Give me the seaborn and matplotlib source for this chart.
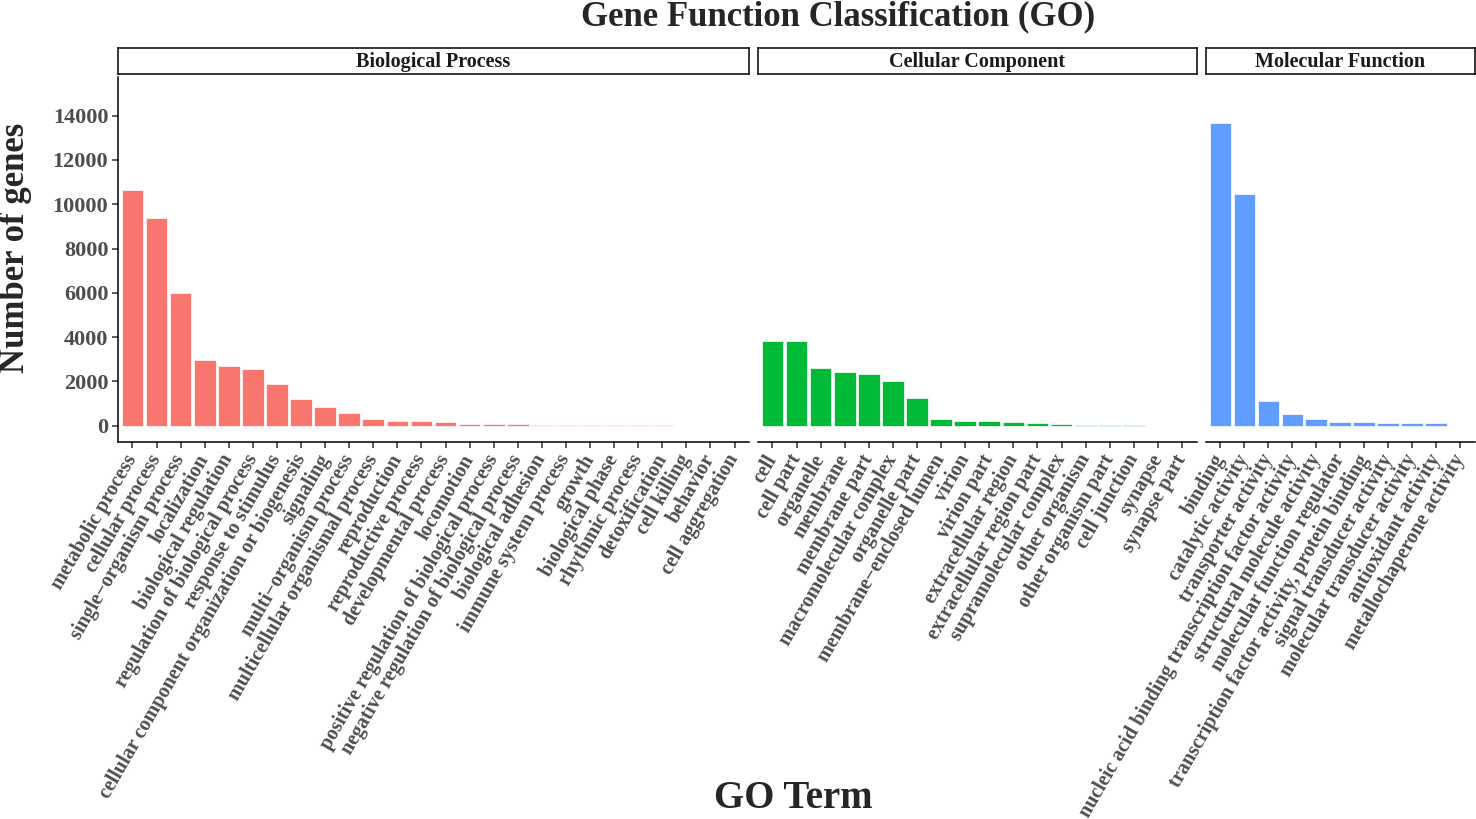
import matplotlib
matplotlib.use("Agg")
import matplotlib.pyplot as plt
import seaborn as sns
import pandas as pd

# data
bp_terms = [
    "metabolic process", "cellular process", "single\u2212organism process",
    "localization", "biological regulation", "regulation of biological process",
    "response to stimulus", "cellular component organization or biogenesis",
    "signaling", "multi\u2212organism process", "multicellular organismal process",
    "reproduction", "reproductive process", "developmental process", "locomotion",
    "positive regulation of biological process",
    "negative regulation of biological process", "biological adhesion",
    "immune system process", "growth", "biological phase", "rhythmic process",
    "detoxification", "cell killing", "behavior", "cell aggregation",
]
bp_counts = [10640, 9370, 5980, 2970, 2680, 2550, 1880, 1190, 830, 560, 290,
             225, 200, 180, 90, 80, 75, 50, 35, 25, 20, 15, 10, 7, 4, 2]

cc_terms = [
    "cell", "cell part", "organelle", "membrane", "membrane part",
    "macromolecular complex", "organelle part", "membrane\u2212enclosed lumen",
    "virion", "virion part", "extracellular region", "extracellular region part",
    "supramolecular complex", "other organism", "other organism part",
    "cell junction", "synapse", "synapse part",
]
cc_counts = [3840, 3830, 2590, 2440, 2330, 2000, 1260, 300, 220, 220, 165, 135,
             65, 30, 30, 10, 8, 5]

mf_terms = [
    "binding", "catalytic activity", "transporter activity",
    "nucleic acid binding transcription factor activity",
    "structural molecule activity", "molecular function regulator",
    "transcription factor activity, protein binding",
    "signal transducer activity", "molecular transducer activity",
    "antioxidant activity", "metallochaperone activity",
]
mf_counts = [13660, 10450, 1130, 515, 320, 180, 155, 125, 125, 105, 5]

facet_names = ["Biological Process", "Cellular Component", "Molecular Function"]
facet_colors = ["#F8766D", "#00BA38", "#619CFF"]
y_ticks = [0, 2000, 4000, 6000, 8000, 10000, 12000, 14000]

sns.set_theme(style="white")
plt.rcParams["font.family"] = ["Liberation Serif", "DejaVu Serif"]
plt.rcParams["font.weight"] = "bold"

W, H = 1476, 819
fig = plt.figure(figsize=(W / 100, H / 100), dpi=100)


def px_box(x0, y0, x1, y1):
    return [x0 / W, 1 - y1 / H, (x1 - x0) / W, (y1 - y0) / H]


facets = [
    (bp_terms, bp_counts, 118, 749),
    (cc_terms, cc_counts, 758, 1196.5),
    (mf_terms, mf_counts, 1206, 1474.5),
]

for i, (terms, counts, x0, x1) in enumerate(facets):
    df = pd.DataFrame({"term": terms, "count": counts})
    ax = fig.add_axes(px_box(x0, 77, x1, 442))
    sns.barplot(data=df, x="term", y="count", color=facet_colors[i],
                saturation=1, width=0.9, edgecolor="white", linewidth=0.5,
                ax=ax)
    n = len(terms)
    ax.set_xlim(-0.6, n - 0.4)
    ax.set_ylim(-736, 15748)
    ax.set_xlabel("")
    ax.set_ylabel("")
    for side in ["top", "right"]:
        ax.spines[side].set_visible(False)
    ax.spines["bottom"].set_color("black")
    ax.spines["bottom"].set_linewidth(1.1)
    ax.set_xticks(range(n))
    ax.set_xticklabels(terms, rotation=60, ha="right", va="center",
                       rotation_mode="anchor", fontsize=14.5,
                       color="#4D4D4D", fontweight="bold")
    ax.tick_params(axis="x", length=4, width=1.1, color="#333333", pad=6,
                   bottom=True)
    if i == 0:
        ax.spines["left"].set_color("black")
        ax.spines["left"].set_linewidth(1.1)
        ax.set_yticks(y_ticks)
        ax.set_yticklabels([str(t) for t in y_ticks], fontsize=16,
                           color="#4D4D4D", fontweight="bold")
        ax.tick_params(axis="y", length=4, width=1.1, color="#333333", pad=3,
                       left=True)
    else:
        ax.spines["left"].set_visible(False)
        ax.set_yticks([])

    # facet strip
    sax = fig.add_axes(px_box(x0, 48, x1, 74))
    sax.set_xticks([])
    sax.set_yticks([])
    sax.set_facecolor("white")
    for sp in sax.spines.values():
        sp.set_visible(True)
        sp.set_color("black")
        sp.set_linewidth(1.1)
    sax.text(0.5, 0.45, facet_names[i], ha="center", va="center",
             fontsize=14.5, fontweight="bold", color="#1A1A1A",
             transform=sax.transAxes)

fig.text(838 / W, 1 - 25 / H, "Gene Function Classification (GO)",
         ha="center", va="baseline", fontsize=25, fontweight="bold")
fig.text(793 / W, 1 - 798 / H, "GO Term", ha="center", va="center",
         fontsize=28, fontweight="bold")
fig.text(16 / W, 1 - 248 / H, "Number of genes", ha="center", va="center",
         rotation=90, fontsize=25, fontweight="bold")

fig.savefig("out.png", dpi=100)
